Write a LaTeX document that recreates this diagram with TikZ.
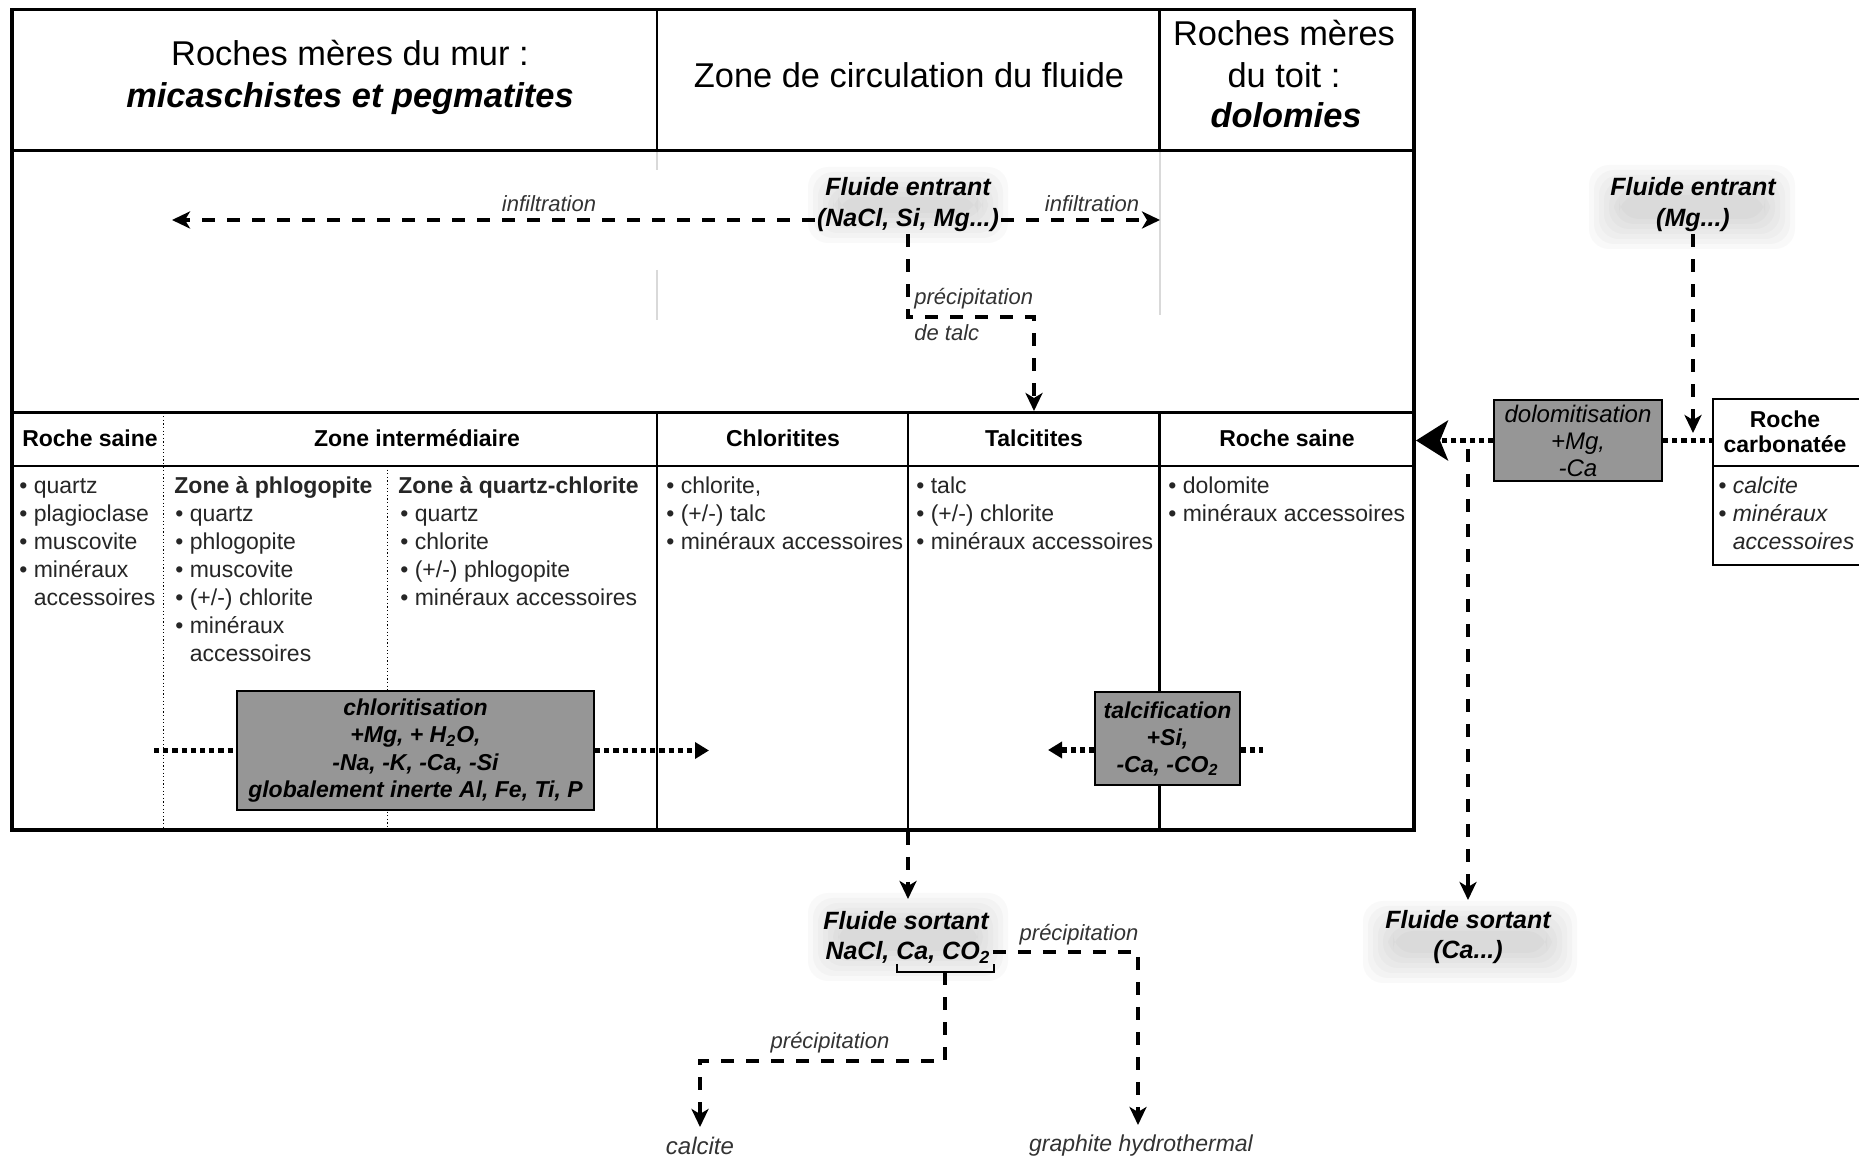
\documentclass[tikz,border=0pt]{standalone}
\usepackage{fontspec}
\setmainfont{Liberation Sans}
\usetikzlibrary{arrows.meta}
\definecolor{procgray}{RGB}{150,150,150}
\newcommand\glowbox[4]{%
  \foreach \k in {0,...,6} {
    \fill[gray, opacity=0.045, rounded corners=10pt] ({#1-#3+\k*5},{#2-#4+\k*5}) rectangle ({#1+#3-\k*5},{#2+#4-\k*5});
  }}
\begin{document}
\begin{tikzpicture}[x=0.5pt,y=-0.5pt,
  frame/.style={line width=1.8pt},
  inner/.style={line width=1.3pt},
  dotv/.style={line width=0.6pt, dash pattern=on 0.6pt off 1.2pt},
  dashc/.style={line width=2.1pt, dash pattern=on 6.5pt off 6pt},
  dasharr/.style={dashc, -{Stealth[length=9pt,width=8.5pt,inset=2.5pt]}},
  dotc/.style={line width=2.6pt, dash pattern=on 2.6pt off 2pt},
  dotarr/.style={dotc, -{Triangle[length=7pt,width=8pt]}},
  hdr/.style={font=\fontsize{17.2}{20.5}\selectfont, inner sep=0, anchor=base},
  sub/.style={font=\bfseries\fontsize{11.5}{14}\selectfont, inner sep=0, anchor=base},
  lst/.style={font=\fontsize{11.5}{14}\selectfont, inner sep=0, anchor=base west, text=black!85},
  fl/.style={font=\bfseries\itshape\fontsize{12.5}{15}\selectfont, inner sep=1pt},
  lab/.style={font=\itshape\fontsize{11}{13}\selectfont, inner sep=0, text=black!80},
  proc/.style={draw, line width=0.9pt, fill=procgray, inner sep=0, align=center,
    font=\bfseries\itshape\fontsize{11.5}{13.6}\selectfont}
]
\useasboundingbox (0,0) rectangle (1859,1159);
\fill[white] (0,0) rectangle (1859,1159);

% glows
\glowbox{908}{205}{100}{38}
\glowbox{1692}{207}{103}{42}
\glowbox{908}{937}{100}{44}
\glowbox{1470}{942}{107}{41}

% frame
\draw[gray!30, line width=1pt] (657,150.6) -- (657,170) (657,270) -- (657,320);
\draw[gray!30, line width=1pt] (1159.5,150.6) -- (1159.5,315);
\draw[frame] (12,9.5) rectangle (1414,830);
\draw[inner] (12,150.6) -- (1414,150.6);
\draw[inner] (657,9.5) -- (657,150.6);
\draw[inner] (1159.5,9.5) -- (1159.5,150.6);
\draw[inner] (12,412.6) -- (1414,412.6);
\draw[inner] (12,466) -- (1414,466);
\draw[inner] (657,412.6) -- (657,830);
\draw[inner] (908,412.6) -- (908,830);
\draw[inner] (1159.5,412.6) -- (1159.5,830);
\draw[dotv] (163.6,412.6) -- (163.6,830);
\draw[dotv] (387.7,466) -- (387.7,830);

% headers
\node[hdr] (h1a) at (350,66) {Roches mères du mur :};
\node[hdr, font=\bfseries\itshape\fontsize{17.2}{20.5}\selectfont] (h1b) at (350,108) {micaschistes et pegmatites};
\node[hdr] (h2) at (909,88) {Zone de circulation du fluide};
\node[hdr] (h3a) at (1284,46) {Roches mères};
\node[hdr] (h3b) at (1284,88) {du toit :};
\node[hdr, font=\bfseries\itshape\fontsize{17.2}{20.5}\selectfont] (h3c) at (1286,128) {dolomies};

% sub headers
\node[sub] (s1) at (90,447) {Roche saine};
\node[sub] (s2) at (417,447) {Zone intermédiaire};
\node[sub] (s3) at (783,447) {Chloritites};
\node[sub] (s4) at (1034,447) {Talcitites};
\node[sub] (s5) at (1287,447) {Roche saine};

% lists
\foreach \t [count=\i] in {quartz,plagioclase,muscovite,minéraux}
  \node[lst] (a\i) at (19,{494+(\i-1)*28}) {\textbullet\ \t};
\node[lst] (a5) at (19,606) {\phantom{\textbullet\ }accessoires};

\node[lst, font=\bfseries\fontsize{11.5}{14}\selectfont] (b0) at (174,494) {Zone à phlogopite};
\foreach \t [count=\i] in {quartz,phlogopite,muscovite,{(+/-) chlorite},minéraux}
  \node[lst] (b\i) at (175,{494+\i*28}) {\textbullet\ \t};
\node[lst] (b6) at (175,662) {\phantom{\textbullet\ }accessoires};

\node[lst, font=\bfseries\fontsize{11.5}{14}\selectfont] (c0) at (398,494) {Zone à quartz-chlorite};
\foreach \t [count=\i] in {quartz,chlorite,{(+/-) phlogopite},{minéraux accessoires}}
  \node[lst] (c\i) at (400,{494+\i*28}) {\textbullet\ \t};

\foreach \t [count=\i] in {{chlorite,},{(+/-) talc},{minéraux accessoires}}
  \node[lst] (d\i) at (666,{494+(\i-1)*28}) {\textbullet\ \t};
\foreach \t [count=\i] in {talc,{(+/-) chlorite},{minéraux accessoires}}
  \node[lst] (e\i) at (916,{494+(\i-1)*28}) {\textbullet\ \t};
\foreach \t [count=\i] in {dolomite,{minéraux accessoires}}
  \node[lst] (f\i) at (1168,{494+(\i-1)*28}) {\textbullet\ \t};

% process boxes
\node[proc, minimum width=178.5pt, minimum height=59.5pt] (chl) at (415.5,750.5)
  {chloritisation\\+Mg, + H\textsubscript{2}O,\\-Na, -K, -Ca, -Si\\globalement inerte Al, Fe, Ti, P};
\node[proc, minimum width=72.5pt, minimum height=46.5pt, font=\bfseries\itshape\fontsize{11.5}{13.5}\selectfont] (tal) at (1167.5,738.5)
  {talcification\\+Si,\\-Ca, -CO\textsubscript{2}};
\node[proc, minimum width=84pt, minimum height=40.5pt, font=\itshape\fontsize{12}{13.5}\selectfont] (dol) at (1578,440.5)
  {dolomitisation\\+Mg,\\-Ca};

\coordinate (chlL) at (154,750.5);
\coordinate (chlR) at (709,750.5);
\draw[dotc] (chlL) -- (chl.west);
\draw[dotarr] (chl.east) -- (chlR);
\coordinate (talL) at (1048,750);
\coordinate (talR) at (1263,750);
\draw[dotarr] (tal.west |- talL) -- (talL);
\draw[dotc] (tal.east |- talR) -- (talR);

% Roche carbonatee
\draw[inner] (1713,399) rectangle (1885,565);
\draw[inner] (1713,466) -- (1885,466);
\node[sub] (rc1) at (1785,428) {Roche};
\node[sub] (rc2) at (1785,453) {carbonatée};
\node[lst, font=\itshape\fontsize{11.5}{14}\selectfont] (rc3) at (1718,494) {\textbullet\ calcite};
\node[lst, font=\itshape\fontsize{11.5}{14}\selectfont] (rc4) at (1718,522) {\textbullet\ minéraux};
\node[lst, font=\itshape\fontsize{11.5}{14}\selectfont] (rc5) at (1718,550) {\phantom{\textbullet\ }accessoires};

% top fluid
\node[fl] (fe1a) at (908,187) {Fluide entrant};
\node[fl] (fe1b) at (908,220) {(NaCl, Si, Mg...)};
\coordinate (infL) at (172,220);
\coordinate (infR) at (1160,220);
\draw[dasharr] (fe1b.west) -- (infL);
\draw[dasharr] (fe1b.east) -- (infR);
\node[lab] (inf1) at (549,204) {infiltration};
\node[lab] (inf2) at (1092,204) {infiltration};
\coordinate (tk1) at (908,317);
\coordinate (tk2) at (1034,317);
\coordinate (tk3) at (1034,411);
\draw[dasharr] (fe1b.south) -- (tk1) -- (tk2) -- (tk3);
\node[lab, anchor=west] (pt1) at (914,299) {précipitation};
\node[lab, anchor=west] (pt2) at (914,333) {de talc};

% right fluid
\node[fl] (fe2a) at (1693,187) {Fluide entrant};
\node[fl] (fe2b) at (1693,220) {(Mg...)};
\coordinate (fe2tip) at (1693,433);
\draw[dasharr] (fe2b.south) -- (fe2tip);
\coordinate (rcW) at (1713,440.5);
\draw[dotc] (dol.east) -- (rcW);
\coordinate (frR) at (1416,440.5);
\draw[dotc, -{Stealth[length=16pt,width=20pt,inset=4pt]}] (dol.west) -- (frR);
\coordinate (dv) at (1468,449);
\coordinate (fs2tip) at (1468,900);
\draw[dasharr] (dv) -- (fs2tip);
\node[fl] (fs2a) at (1468,920) {Fluide sortant};
\node[fl] (fs2b) at (1468,952) {(Ca...)};

% bottom fluid
\coordinate (fbot) at (908,832);
\coordinate (fs1tip) at (908,899);
\draw[dasharr] (fbot) -- (fs1tip);
\node[fl] (fs1a) at (906,921) {Fluide sortant};
\node[fl] (fs1b) at (908,952) {NaCl, Ca, CO\textsubscript{2}};
\draw[line width=1pt] (897,964) -- (897,972) -- (994,972) -- (994,964);
\coordinate (brk) at (945,972);
\coordinate (b1) at (945,1061);
\coordinate (b2) at (700,1061);
\coordinate (ctip) at (700,1127);
\draw[dasharr] (brk) -- (b1) -- (b2) -- (ctip);
\node[lab] (prc1) at (830,1043) {précipitation};
\node[lab, font=\itshape\fontsize{12}{14}\selectfont] (calc) at (700,1146) {calcite};
\coordinate (g1) at (1138,952);
\coordinate (gtip) at (1138,1125);
\draw[dasharr] (fs1b.east) -- (g1) -- (gtip);
\node[lab] (prc2) at (1079,935) {précipitation};
\node[lab, font=\itshape\fontsize{11.5}{14}\selectfont] (graph) at (1141,1146) {graphite hydrothermal};
\end{tikzpicture}
\end{document}
